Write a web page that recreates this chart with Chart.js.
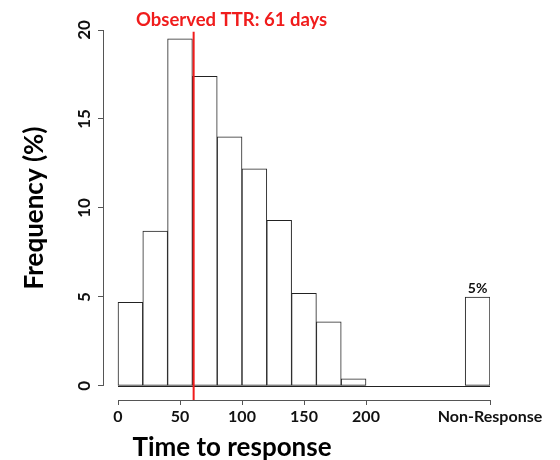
<!DOCTYPE html>
<html>
<head>
<meta charset="utf-8">
<script src="https://cdn.jsdelivr.net/npm/chart.js@4.4.1/dist/chart.umd.min.js"></script>
<style>
html,body{margin:0;padding:0;background:#fff;}
#wrap{width:560px;height:460px;position:relative;}
</style>
</head>
<body>
<div id="wrap"><canvas id="c" width="560" height="460"></canvas></div>
<script>
// ---- data ----
const binCenters = [10, 30, 50, 70, 90, 110, 130, 150, 170, 190, 290];
const frequencies = [4.7, 8.7, 19.5, 17.4, 14.0, 12.2, 9.3, 5.2, 3.6, 0.4, 5.0];
const xTickValues = [0, 50, 100, 150, 200, 300];
const xTickLabels = ['0', '50', '100', '150', '200', 'Non-Response'];
const yTickValues = [0, 5, 10, 15, 20];
const yTickLabels = ['0', '5', '10', '15', '20'];
const observedTTR = 61;
const nonResponseLabel = '5%';
const xTitle = 'Time to response';
const yTitle = 'Frequency (%)';

const FONT = 'Lato, "Open Sans", "DejaVu Sans", sans-serif';
const RED = '#f01c1c';

const overlay = {
  id: 'overlay',
  afterDatasetsDraw(chart) {
    const ctx = chart.ctx;
    const xs = chart.scales.x, ys = chart.scales.y;
    const area = chart.chartArea;
    ctx.save();
    // baseline
    ctx.strokeStyle = '#222';
    ctx.lineWidth = 1;
    ctx.beginPath();
    ctx.moveTo(xs.getPixelForValue(0), Math.round(ys.getPixelForValue(0)) + 0.5);
    ctx.lineTo(xs.getPixelForValue(300), Math.round(ys.getPixelForValue(0)) + 0.5);
    ctx.stroke();
    // axis lines
    ctx.strokeStyle = '#555';
    ctx.beginPath();
    const ax = Math.round(area.left) + 0.5;
    ctx.moveTo(ax, ys.getPixelForValue(yTickValues[0]));
    ctx.lineTo(ax, ys.getPixelForValue(yTickValues[yTickValues.length - 1]));
    const ay = Math.round(area.bottom) + 0.5;
    ctx.moveTo(xs.getPixelForValue(xTickValues[0]), ay);
    ctx.lineTo(xs.getPixelForValue(xTickValues[xTickValues.length - 1]), ay);
    ctx.stroke();
    // red observed line
    const rx = xs.getPixelForValue(observedTTR);
    ctx.strokeStyle = RED;
    ctx.lineWidth = 2;
    ctx.beginPath();
    ctx.moveTo(rx, ys.getPixelForValue(19.9));
    ctx.lineTo(rx, area.bottom);
    ctx.stroke();
    // red title
    ctx.fillStyle = RED;
    ctx.font = 'bold 18.5px ' + FONT;
    ctx.textAlign = 'center';
    ctx.textBaseline = 'alphabetic';
    ctx.fillText('Observed TTR: ' + observedTTR + ' days', rx + 38, 26);
    // 5% label
    ctx.fillStyle = '#111';
    ctx.font = 'bold 14px ' + FONT;
    ctx.fillText(nonResponseLabel, xs.getPixelForValue(binCenters[binCenters.length - 1]), ys.getPixelForValue(frequencies[frequencies.length - 1]) - 4);
    // y tick labels rotated
    ctx.font = 'bold 17px ' + FONT;
    ctx.fillStyle = '#111';
    yTickValues.forEach((v, i) => {
      const py = ys.getPixelForValue(v);
      ctx.save();
      ctx.translate(area.left - 13, py);
      ctx.rotate(-Math.PI / 2);
      ctx.textAlign = 'center';
      ctx.textBaseline = 'alphabetic';
      ctx.fillText(yTickLabels[i], 0, 0);
      ctx.restore();
    });
    // axis titles
    ctx.fillStyle = '#000';
    ctx.font = 'bold 26px ' + FONT;
    ctx.textAlign = 'center';
    ctx.textBaseline = 'alphabetic';
    ctx.fillText(xTitle, 232, 456);
    ctx.save();
    ctx.translate(43, 208);
    ctx.rotate(-Math.PI / 2);
    ctx.fillText(yTitle, 0, 0);
    ctx.restore();
    ctx.restore();
  }
};

new Chart(document.getElementById('c'), {
  type: 'bar',
  data: {
    datasets: [{
      data: binCenters.map((c, i) => ({ x: c, y: frequencies[i] })),
      backgroundColor: '#ffffff',
      borderColor: '#222',
      borderWidth: 1,
      borderSkipped: false,
      barPercentage: 1,
      categoryPercentage: 1
    }]
  },
  options: {
    responsive: false,
    animation: false,
    devicePixelRatio: 1,
    layout: { padding: { left: 98, top: 30, right: 70, bottom: 0 } },
    plugins: { legend: { display: false }, tooltip: { enabled: false } },
    scales: {
      x: {
        type: 'linear',
        offset: false,
        min: -12.1,
        max: 300,
        afterBuildTicks: s => { s.ticks = xTickValues.map(v => ({ value: v })); },
        afterFit: s => { s.height = 60; },
        ticks: {
          autoSkip: false,
          maxRotation: 0,
          minRotation: 0,
          padding: 2,
          color: '#111',
          font: { family: FONT, size: 16, weight: 'bold' },
          callback: (v, i) => xTickLabels[i]
        },
        grid: { offset: false, drawOnChartArea: false, drawTicks: true, tickLength: 5, color: '#555' },
        border: { display: false }
      },
      y: {
        min: -0.79,
        max: 20,
        afterBuildTicks: s => { s.ticks = yTickValues.map(v => ({ value: v })); },
        afterFit: s => { s.width = 5; },
        ticks: { display: false },
        grid: { offset: false, drawOnChartArea: false, drawTicks: true, tickLength: 5, color: '#555' },
        border: { display: false }
      }
    }
  },
  plugins: [overlay]
});
</script>
</body>
</html>
